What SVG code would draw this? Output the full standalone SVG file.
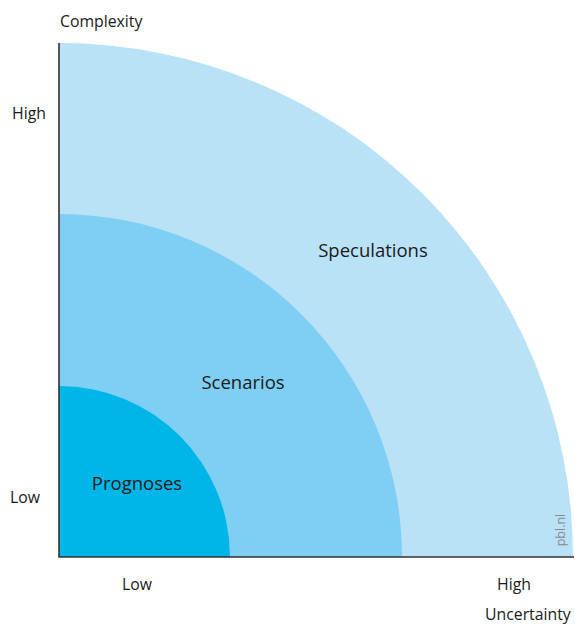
<svg xmlns="http://www.w3.org/2000/svg" width="575" height="625" viewBox="0 0 575 625">
<style>
text{font-family:"Open Sans","Noto Sans",sans-serif;fill:#1a1a1a}
.ax{font-size:15.8px}
.lb{font-size:18.5px;text-anchor:middle}
.axis{stroke:#333;stroke-width:1.6;fill:none}
</style>
<rect width="575" height="625" fill="#fff"/>
<g id="speculations">
<path d="M59,557 L59,43 A514,514 0 0 1 573,557 Z" fill="#bae2f7"/>
<text class="lb" x="373" y="257">Speculations</text>
</g>
<g id="scenarios">
<path d="M59,557 L59,214 A343,343 0 0 1 402,557 Z" fill="#7fcef3"/>
<text class="lb" x="243" y="389">Scenarios</text>
</g>
<g id="prognoses">
<path d="M59,557 L59,386 A171,171 0 0 1 230,557 Z" fill="#00b6e9"/>
<text class="lb" x="137" y="490">Prognoses</text>
</g>
<g id="axes">
<path class="axis" d="M59,43 L59,557 L574,557"/>
</g>
<g id="labels">
<text class="ax" x="60" y="27">Complexity</text>
<text class="ax" x="12" y="119">High</text>
<text class="ax" x="10" y="503">Low</text>
<text class="ax" x="122" y="590">Low</text>
<text class="ax" x="497" y="590">High</text>
<text class="ax" x="485" y="620">Uncertainty</text>
<text x="565" y="530" font-size="12.5" style="fill:#8a8a8a" text-anchor="middle" transform="rotate(-90 565 530)">pbl.nl</text>
</g>
</svg>
